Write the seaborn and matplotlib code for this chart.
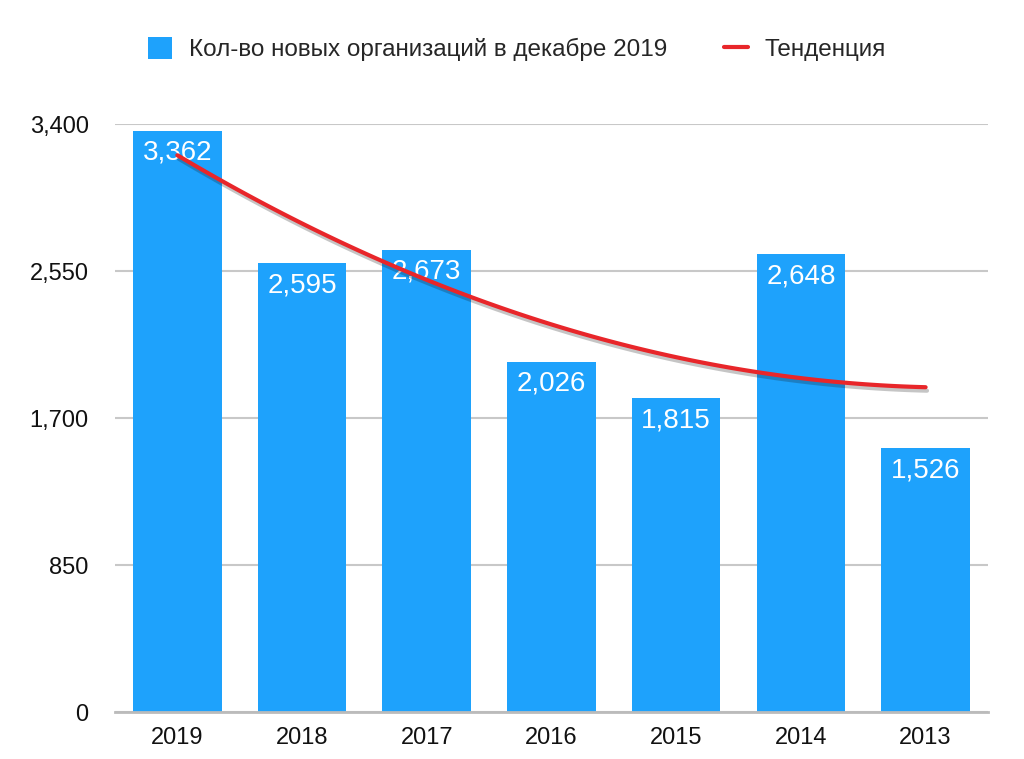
import numpy as np
import pandas as pd
import matplotlib
matplotlib.use('Agg')
import matplotlib.pyplot as plt
import matplotlib.patheffects as pe
from matplotlib.patches import Patch
from matplotlib.lines import Line2D
import seaborn as sns

# данные
years = ['2019', '2018', '2017', '2016', '2015', '2014', '2013']
counts = [3362, 2595, 2673, 2026, 1815, 2648, 1526]
yticks = [0, 850, 1700, 2550, 3400]

bar_label = 'Кол-во новых организаций в декабре 2019'
trend_label = 'Тенденция'

bar_color = '#1EA2FC'
line_color = '#E8262A'

sns.set_theme(style='white')
plt.rcParams['font.family'] = ['Liberation Sans', 'DejaVu Sans']

df = pd.DataFrame({'year': years, 'count': counts, 'pos': np.arange(len(years))})

fig = plt.figure(figsize=(10.24, 7.59), dpi=100)
ax = fig.add_axes([0.1123, 0.0619, 0.8525, 0.7747])

sns.barplot(data=df, x='year', y='count', order=years, color=bar_color,
            saturation=1, width=0.71, linewidth=0, ax=ax, zorder=2)

# подписи значений внутри столбцов
for i, v in enumerate(counts):
    ax.annotate(f'{v:,}', xy=(i, v), xytext=(0, -16), textcoords='offset points',
                ha='center', va='center', color='white', fontsize=20, zorder=3)

# линия тренда (полином 2-й степени)
sns.regplot(data=df, x='pos', y='count', order=2, ci=None, scatter=False, ax=ax,
            line_kws=dict(color=line_color, lw=3, zorder=4,
                          path_effects=[pe.SimpleLineShadow(offset=(1, -2.5), alpha=0.25),
                                        pe.Normal()]))

ax.set_xlim(-0.5, 6.5)
ax.set_ylim(0, 3400)
ax.set_yticks(yticks)
ax.set_yticklabels([f'{t:,}' for t in yticks])
ax.yaxis.grid(True, color='#C8C8C8', lw=1.5, zorder=0)
ax.set_axisbelow(True)
ax.set_xlabel('')
ax.set_ylabel('')
for s in ['top', 'right', 'left']:
    ax.spines[s].set_visible(False)
ax.spines['bottom'].set_color('#BBBBBB')
ax.spines['bottom'].set_linewidth(2)
ax.tick_params(axis='y', length=0, pad=19, labelsize=17, labelcolor='#111111')
ax.tick_params(axis='x', length=0, pad=11, labelsize=17, labelcolor='#111111')

handles = [Patch(facecolor=bar_color, edgecolor='none', label=bar_label),
           Line2D([0], [0], color=line_color, lw=3, label=trend_label)]
fig.legend(handles=handles, loc='center', bbox_to_anchor=(0.505, 0.935), ncol=2,
           frameon=False, fontsize=17.5, handlelength=1.0, handleheight=1.0,
           handletextpad=0.7, columnspacing=2.3)

fig.savefig('out.png', dpi=100)
